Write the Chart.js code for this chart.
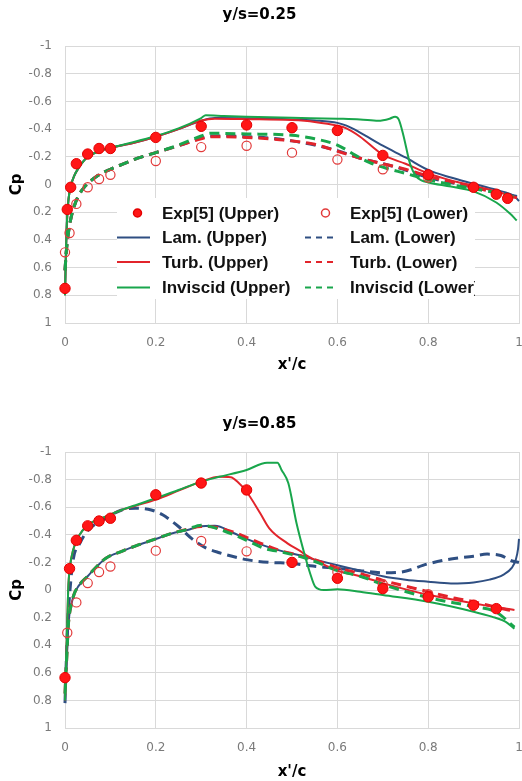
<!DOCTYPE html>
<html><head><meta charset="utf-8">
<script src="https://cdn.jsdelivr.net/npm/chart.js@4.4.0/dist/chart.umd.min.js"></script>
<style>
html,body{margin:0;padding:0;background:#fff;width:522px;height:781px;overflow:hidden}
.box{position:absolute;left:0;width:522px}
#b1{top:0;height:390px}
#b2{top:390px;height:391px}
</style></head><body>
<div class="box" id="b1"><canvas id="c1"></canvas></div>
<div class="box" id="b2"><canvas id="c2"></canvas></div>
<script>
// ---------- tick labels ----------
const xTicks = [0, 0.2, 0.4, 0.6, 0.8, 1];
const xTickLabels = ['0', '0.2', '0.4', '0.6', '0.8', '1'];
const yTicks = [-1, -0.8, -0.6, -0.4, -0.2, 0, 0.2, 0.4, 0.6, 0.8, 1];
const yTickLabels = ['-1', '-0.8', '-0.6', '-0.4', '-0.2', '0', '0.2', '0.4', '0.6', '0.8', '1'];

const seriesLabels = ['Exp[5] (Upper)', 'Exp[5] (Lower)', 'Lam. (Upper)', 'Lam. (Lower)',
  'Turb. (Upper)', 'Turb. (Lower)', 'Inviscid (Upper)', 'Inviscid (Lower)'];
const legendLeft = ['Exp[5] (Upper)', 'Lam. (Upper)', 'Turb. (Upper)', 'Inviscid (Upper)'];
const legendRight = ['Exp[5] (Lower)', 'Lam. (Lower)', 'Turb. (Lower)', 'Inviscid (Lower)'];

// ---------- y/s = 0.25 ----------
const expUpX_A = [0, 0.005, 0.0125, 0.025, 0.05, 0.075, 0.1, 0.2, 0.3, 0.4, 0.5, 0.6, 0.7, 0.8, 0.9, 0.95, 0.975];
const expUpCp_A = [0.75, 0.18, 0.02, -0.15, -0.22, -0.26, -0.26, -0.34, -0.42, -0.43, -0.41, -0.39, -0.21, -0.07, 0.02, 0.07, 0.10];
const expLoX_A = [0, 0.01, 0.025, 0.05, 0.075, 0.1, 0.2, 0.3, 0.4, 0.5, 0.6, 0.7, 0.8];
const expLoCp_A = [0.49, 0.35, 0.14, 0.02, -0.04, -0.07, -0.17, -0.27, -0.28, -0.23, -0.18, -0.11, -0.05];

const lamUpX_A = [0, 0.002, 0.005, 0.008, 0.012, 0.02, 0.03, 0.05, 0.075, 0.1, 0.15, 0.2, 0.25, 0.3, 0.33, 0.4, 0.5, 0.55, 0.6, 0.62, 0.65, 0.7, 0.75, 0.8, 0.85, 0.9, 0.95, 0.99, 1.0];
const lamUpCp_A = [0.80, 0.5, 0.22, 0.1, 0.02, -0.06, -0.12, -0.2, -0.24, -0.265, -0.3, -0.345, -0.40, -0.46, -0.48, -0.478, -0.47, -0.462, -0.445, -0.425, -0.375, -0.28, -0.195, -0.105, -0.05, -0.005, 0.04, 0.085, 0.12];
const turbUpX_A = [0, 0.002, 0.005, 0.008, 0.012, 0.02, 0.03, 0.05, 0.075, 0.1, 0.15, 0.2, 0.25, 0.3, 0.33, 0.4, 0.5, 0.55, 0.6, 0.62, 0.65, 0.7, 0.75, 0.8, 0.85, 0.9, 0.95, 0.99];
const turbUpCp_A = [0.80, 0.5, 0.22, 0.1, 0.02, -0.06, -0.12, -0.2, -0.24, -0.265, -0.3, -0.345, -0.40, -0.462, -0.475, -0.472, -0.465, -0.452, -0.425, -0.405, -0.345, -0.215, -0.15, -0.08, -0.03, 0.01, 0.05, 0.09];
const invUpX_A = [0, 0.002, 0.005, 0.008, 0.012, 0.02, 0.03, 0.05, 0.075, 0.1, 0.15, 0.2, 0.25, 0.3, 0.31, 0.35, 0.4, 0.5, 0.6, 0.65, 0.69, 0.715, 0.727, 0.735, 0.745, 0.76, 0.773, 0.785, 0.8, 0.85, 0.9, 0.95, 0.98, 0.995];
const invUpCp_A = [0.80, 0.5, 0.22, 0.1, 0.02, -0.06, -0.12, -0.2, -0.24, -0.265, -0.305, -0.35, -0.405, -0.48, -0.5, -0.495, -0.49, -0.482, -0.475, -0.47, -0.46, -0.475, -0.49, -0.47, -0.36, -0.15, -0.06, -0.03, -0.015, 0.015, 0.05, 0.13, 0.21, 0.26];

const lamLoX_A = [0, 0.003, 0.007, 0.012, 0.02, 0.03, 0.045, 0.07, 0.1, 0.13, 0.16, 0.2, 0.25, 0.3, 0.32, 0.35, 0.4, 0.45, 0.5, 0.55, 0.6, 0.65, 0.7, 0.75, 0.8, 0.85, 0.9, 0.95, 1.0];
const lamLoCp_A = [0.62, 0.48, 0.36, 0.26, 0.16, 0.08, 0.01, -0.06, -0.11, -0.15, -0.19, -0.23, -0.28, -0.335, -0.35, -0.35, -0.345, -0.335, -0.315, -0.285, -0.245, -0.19, -0.15, -0.105, -0.05, -0.015, 0.02, 0.055, 0.09];
const turbLoX_A = [0, 0.003, 0.007, 0.012, 0.02, 0.03, 0.045, 0.07, 0.1, 0.13, 0.16, 0.2, 0.25, 0.3, 0.32, 0.35, 0.4, 0.45, 0.5, 0.55, 0.6, 0.65, 0.7, 0.75, 0.8, 0.85, 0.9, 0.95, 1.0];
const turbLoCp_A = [0.62, 0.48, 0.36, 0.26, 0.16, 0.08, 0.01, -0.06, -0.11, -0.15, -0.19, -0.23, -0.28, -0.33, -0.345, -0.345, -0.34, -0.33, -0.315, -0.29, -0.24, -0.19, -0.15, -0.11, -0.06, -0.02, 0.02, 0.06, 0.1];
const invLoX_A = [0, 0.003, 0.007, 0.012, 0.02, 0.03, 0.045, 0.07, 0.1, 0.13, 0.16, 0.2, 0.25, 0.3, 0.32, 0.4, 0.5, 0.55, 0.6, 0.64, 0.67, 0.7, 0.75, 0.8, 0.85, 0.9, 0.95, 1.0];
const invLoCp_A = [0.62, 0.48, 0.36, 0.26, 0.16, 0.08, 0.01, -0.06, -0.11, -0.15, -0.19, -0.23, -0.285, -0.35, -0.37, -0.365, -0.355, -0.33, -0.285, -0.21, -0.16, -0.125, -0.08, -0.035, 0.0, 0.03, 0.06, 0.1];

// ---------- y/s = 0.85 ----------
const expUpX_B = [0, 0.01, 0.025, 0.05, 0.075, 0.1, 0.2, 0.3, 0.4, 0.5, 0.6, 0.7, 0.8, 0.9, 0.95];
const expUpCp_B = [0.635, -0.155, -0.36, -0.465, -0.50, -0.52, -0.69, -0.775, -0.725, -0.20, -0.085, -0.01, 0.05, 0.11, 0.135];
const expLoX_B = [0.005, 0.025, 0.05, 0.075, 0.1, 0.2, 0.3, 0.4, 0.6, 0.7, 0.8];
const expLoCp_B = [0.31, 0.09, -0.05, -0.13, -0.17, -0.285, -0.355, -0.28, -0.13, -0.04, 0.03];

const lamUpX_B = [0, 0.002, 0.004, 0.007, 0.01, 0.015, 0.02, 0.03, 0.05, 0.07, 0.09, 0.125, 0.16, 0.2, 0.235, 0.27, 0.295, 0.33, 0.37, 0.4, 0.44, 0.48, 0.52, 0.55, 0.6, 0.65, 0.7, 0.75, 0.8, 0.85, 0.9, 0.935, 0.965, 0.984, 0.993, 0.998, 1.0];
const lamUpCp_B = [0.75, 0.6, 0.48, 0.27, 0.17, 0.09, 0.03, -0.03, -0.10, -0.17, -0.23, -0.28, -0.325, -0.37, -0.41, -0.435, -0.46, -0.465, -0.415, -0.37, -0.32, -0.28, -0.25, -0.22, -0.18, -0.14, -0.10, -0.075, -0.06, -0.048, -0.055, -0.075, -0.11, -0.16, -0.22, -0.3, -0.37];
const lamLoX_B = [0, 0.002, 0.006, 0.011, 0.018, 0.033, 0.05, 0.09, 0.125, 0.155, 0.19, 0.215, 0.25, 0.28, 0.31, 0.34, 0.4, 0.45, 0.5, 0.54, 0.59, 0.65, 0.7, 0.74, 0.8, 0.85, 0.9, 0.93, 0.96, 0.985, 1.0];
const lamLoCp_B = [0.82, 0.6, 0.24, 0.0, -0.22, -0.34, -0.43, -0.52, -0.58, -0.592, -0.58, -0.545, -0.46, -0.37, -0.305, -0.27, -0.22, -0.2, -0.193, -0.175, -0.16, -0.14, -0.125, -0.13, -0.19, -0.225, -0.245, -0.26, -0.25, -0.21, -0.2];
const turbUpX_B = [0, 0.002, 0.004, 0.007, 0.011, 0.018, 0.029, 0.05, 0.088, 0.125, 0.16, 0.2, 0.25, 0.3, 0.34, 0.365, 0.38, 0.4, 0.43, 0.45, 0.49, 0.52, 0.53, 0.58, 0.6, 0.65, 0.7, 0.8, 0.9, 0.99];
const turbUpCp_B = [0.8, 0.6, 0.36, 0.0, -0.17, -0.29, -0.385, -0.47, -0.53, -0.58, -0.615, -0.655, -0.72, -0.785, -0.82, -0.817, -0.785, -0.712, -0.556, -0.447, -0.338, -0.278, -0.254, -0.169, -0.14, -0.1, -0.05, 0.035, 0.097, 0.145];
const turbLoX_B = [0, 0.002, 0.004, 0.007, 0.01, 0.015, 0.02, 0.03, 0.05, 0.07, 0.09, 0.125, 0.16, 0.2, 0.235, 0.27, 0.3, 0.33, 0.37, 0.43, 0.47, 0.51, 0.55, 0.6, 0.65, 0.7, 0.8, 0.86, 0.9, 0.95, 0.99];
const turbLoCp_B = [0.75, 0.6, 0.48, 0.27, 0.17, 0.09, 0.03, -0.03, -0.10, -0.17, -0.23, -0.28, -0.325, -0.37, -0.41, -0.44, -0.46, -0.455, -0.42, -0.34, -0.29, -0.255, -0.22, -0.16, -0.12, -0.07, 0.012, 0.06, 0.085, 0.125, 0.155];
const invUpX_B = [0, 0.002, 0.004, 0.007, 0.011, 0.018, 0.029, 0.05, 0.088, 0.125, 0.16, 0.2, 0.25, 0.3, 0.34, 0.4, 0.445, 0.468, 0.477, 0.492, 0.51, 0.525, 0.54, 0.551, 0.57, 0.6, 0.65, 0.7, 0.8, 0.9, 0.94, 0.97, 0.99];
const invUpCp_B = [0.8, 0.6, 0.36, 0.0, -0.17, -0.29, -0.385, -0.47, -0.53, -0.58, -0.62, -0.665, -0.725, -0.785, -0.82, -0.87, -0.922, -0.922, -0.87, -0.773, -0.483, -0.29, -0.12, -0.025, 0.0, -0.005, 0.012, 0.036, 0.085, 0.157, 0.193, 0.23, 0.28];
const invLoX_B = [0, 0.002, 0.004, 0.007, 0.01, 0.015, 0.02, 0.03, 0.05, 0.07, 0.09, 0.125, 0.16, 0.2, 0.235, 0.27, 0.3, 0.34, 0.4, 0.44, 0.47, 0.52, 0.56, 0.6, 0.65, 0.7, 0.8, 0.9, 0.95, 0.99];
const invLoCp_B = [0.75, 0.6, 0.48, 0.27, 0.17, 0.09, 0.03, -0.03, -0.10, -0.17, -0.23, -0.28, -0.325, -0.37, -0.41, -0.44, -0.47, -0.44, -0.36, -0.30, -0.28, -0.24, -0.195, -0.14, -0.1, -0.04, 0.055, 0.12, 0.16, 0.27];

// ---------- styles ----------
const C_LAM = '#2f4f82', C_TURB = '#e2242b', C_INV = '#19a64c', C_EXP = '#ff1616';
const GRID = '#d9d9d9';
const TICK = '#7a7a7a';
const titleFont = {family: 'DejaVu Sans', size: 15, weight: 'bold'};
const tickFont = {family: 'DejaVu Sans', size: 12};

function pts(xs, ys) { return xs.map((x, i) => ({x: x, y: ys[i]})); }

function buildDatasets(s) {
  const line = (label, xs, ys, color, dashed, order) => ({
    label, data: pts(xs, ys), showLine: true, borderColor: color, backgroundColor: color,
    borderWidth: dashed ? 3 : 2, borderDash: dashed ? [10, 6] : [], pointRadius: 0,
    cubicInterpolationMode: 'monotone', clip: false, order
  });
  return [
    {label: seriesLabels[0], data: pts(s.expUpX, s.expUpCp), showLine: false, pointRadius: 5.2,
      pointBackgroundColor: C_EXP, pointBorderColor: '#e40000', pointBorderWidth: 1, backgroundColor: C_EXP, borderColor: '#e40000', clip: false, order: 0},
    {label: seriesLabels[1], data: pts(s.expLoX, s.expLoCp), showLine: false, pointRadius: 4.6,
      pointBackgroundColor: 'rgba(255,255,255,0)', pointBorderColor: '#e23a3a', pointBorderWidth: 1.2, backgroundColor: 'rgba(255,255,255,0)', borderColor: '#e23a3a', clip: false, order: 0},
    line(seriesLabels[2], s.lamUpX, s.lamUpCp, C_LAM, false, 3),
    line(seriesLabels[3], s.lamLoX, s.lamLoCp, C_LAM, true, 3),
    line(seriesLabels[4], s.turbUpX, s.turbUpCp, C_TURB, false, 2),
    line(seriesLabels[5], s.turbLoX, s.turbLoCp, C_TURB, true, 2),
    line(seriesLabels[6], s.invUpX, s.invUpCp, C_INV, false, 1),
    line(seriesLabels[7], s.invLoX, s.invLoCp, C_INV, true, 1)
  ];
}

// legend drawn inside the plot area (two columns, white box)
const boxLegend = {
  id: 'boxLegend',
  afterDraw(chart, args, opts) {
    if (!opts || !opts.show) return;
    const ctx = chart.ctx;
    const bx0 = 117, bx1 = 475, by0 = 198, by1 = 299;
    const rows = [213, 237.5, 262, 287.5];
    ctx.save();
    ctx.fillStyle = '#ffffff';
    ctx.fillRect(bx0, by0, bx1 - bx0, by1 - by0);
    ctx.beginPath(); ctx.rect(bx0, by0, bx1 - bx0, by1 - by0); ctx.clip();
    const cols = [{labels: legendLeft, s0: 117, s1: 150, tx: 162}, {labels: legendRight, s0: 305, s1: 338, tx: 350}];
    cols.forEach(col => {
      col.labels.forEach((lab, r) => {
        const ds = chart.data.datasets.find(d => d.label === lab);
        const y = rows[r];
        if (!ds.showLine) {
          ctx.beginPath();
          ctx.arc((col.s0 + col.s1) / 2 + 4, y, 4, 0, Math.PI * 2);
          ctx.fillStyle = ds.pointBackgroundColor;
          ctx.fill();
          ctx.lineWidth = 1.5;
          ctx.strokeStyle = ds.pointBorderColor;
          ctx.stroke();
        } else {
          ctx.beginPath();
          ctx.setLineDash(ds.borderDash.length ? [6, 5] : []);
          ctx.lineWidth = 2;
          ctx.strokeStyle = ds.borderColor;
          ctx.moveTo(col.s0, y); ctx.lineTo(col.s1, y);
          ctx.stroke();
          ctx.setLineDash([]);
        }
        ctx.fillStyle = '#111';
        ctx.font = 'bold 17px "Liberation Sans", Arial, sans-serif';
        ctx.textAlign = 'left';
        ctx.textBaseline = 'middle';
        ctx.fillText(lab, col.tx, y + 1);
      });
    });
    ctx.restore();
  }
};

function makeChart(canvasId, titleText, s, L) {
  return new Chart(document.getElementById(canvasId), {
    type: 'scatter',
    data: {datasets: buildDatasets(s)},
    plugins: [boxLegend],
    options: {
      responsive: true, maintainAspectRatio: false, animation: false, devicePixelRatio: 1,
      layout: {autoPadding: false, padding: {left: 0, right: 3, top: 0, bottom: 0}},
      plugins: {
        legend: {display: false},
        tooltip: {enabled: false},
        title: {display: true, text: titleText, font: titleFont, color: '#000', padding: {top: L.tTop, bottom: L.tBottom}},
        boxLegend: {show: L.legend}
      },
      scales: {
        x: {
          type: 'linear', min: 0, max: 1,
          afterBuildTicks: sc => { sc.ticks = xTicks.map(v => ({value: v})); },
          afterFit: sc => { sc.height = L.xH; sc.paddingLeft = 0; sc.paddingRight = 0; },
          ticks: {autoSkip: false, maxRotation: 0, padding: 13, font: tickFont, color: TICK,
            callback: (v, i) => xTickLabels[i]},
          grid: {color: GRID, drawTicks: false, lineWidth: 1},
          border: {color: GRID},
          title: {display: true, text: "x'/c", font: titleFont, color: '#000', padding: {top: 0, bottom: L.xTitlePad}}
        },
        y: {
          type: 'linear', min: -1, max: 1, reverse: true,
          afterBuildTicks: sc => { sc.ticks = yTicks.map(v => ({value: v})); },
          afterFit: sc => { sc.width = 65; },
          ticks: {autoSkip: false, padding: 13, font: tickFont, color: TICK,
            callback: (v, i) => yTickLabels[i]},
          grid: {color: GRID, drawTicks: false, lineWidth: 1},
          border: {color: GRID},
          title: {display: true, text: 'Cp', font: titleFont, color: '#000', padding: {top: 8, bottom: 0}}
        }
      }
    }
  });
}

makeChart('c1', 'y/s=0.25', {
  expUpX: expUpX_A, expUpCp: expUpCp_A, expLoX: expLoX_A, expLoCp: expLoCp_A,
  lamUpX: lamUpX_A, lamUpCp: lamUpCp_A, lamLoX: lamLoX_A, lamLoCp: lamLoCp_A,
  turbUpX: turbUpX_A, turbUpCp: turbUpCp_A, turbLoX: turbLoX_A, turbLoCp: turbLoCp_A,
  invUpX: invUpX_A, invUpCp: invUpCp_A, invLoX: invLoX_A, invLoCp: invLoCp_A
}, {tTop: 6, tBottom: 22, xH: 67, xTitlePad: 16, legend: true});

makeChart('c2', 'y/s=0.85', {
  expUpX: expUpX_B, expUpCp: expUpCp_B, expLoX: expLoX_B, expLoCp: expLoCp_B,
  lamUpX: lamUpX_B, lamUpCp: lamUpCp_B, lamLoX: lamLoX_B, lamLoCp: lamLoCp_B,
  turbUpX: turbUpX_B, turbUpCp: turbUpCp_B, turbLoX: turbLoX_B, turbLoCp: turbLoCp_B,
  invUpX: invUpX_B, invUpCp: invUpCp_B, invLoX: invLoX_B, invLoCp: invLoCp_B
}, {tTop: 25, tBottom: 19, xH: 53, xTitlePad: 0, legend: false});
</script>
</body></html>
